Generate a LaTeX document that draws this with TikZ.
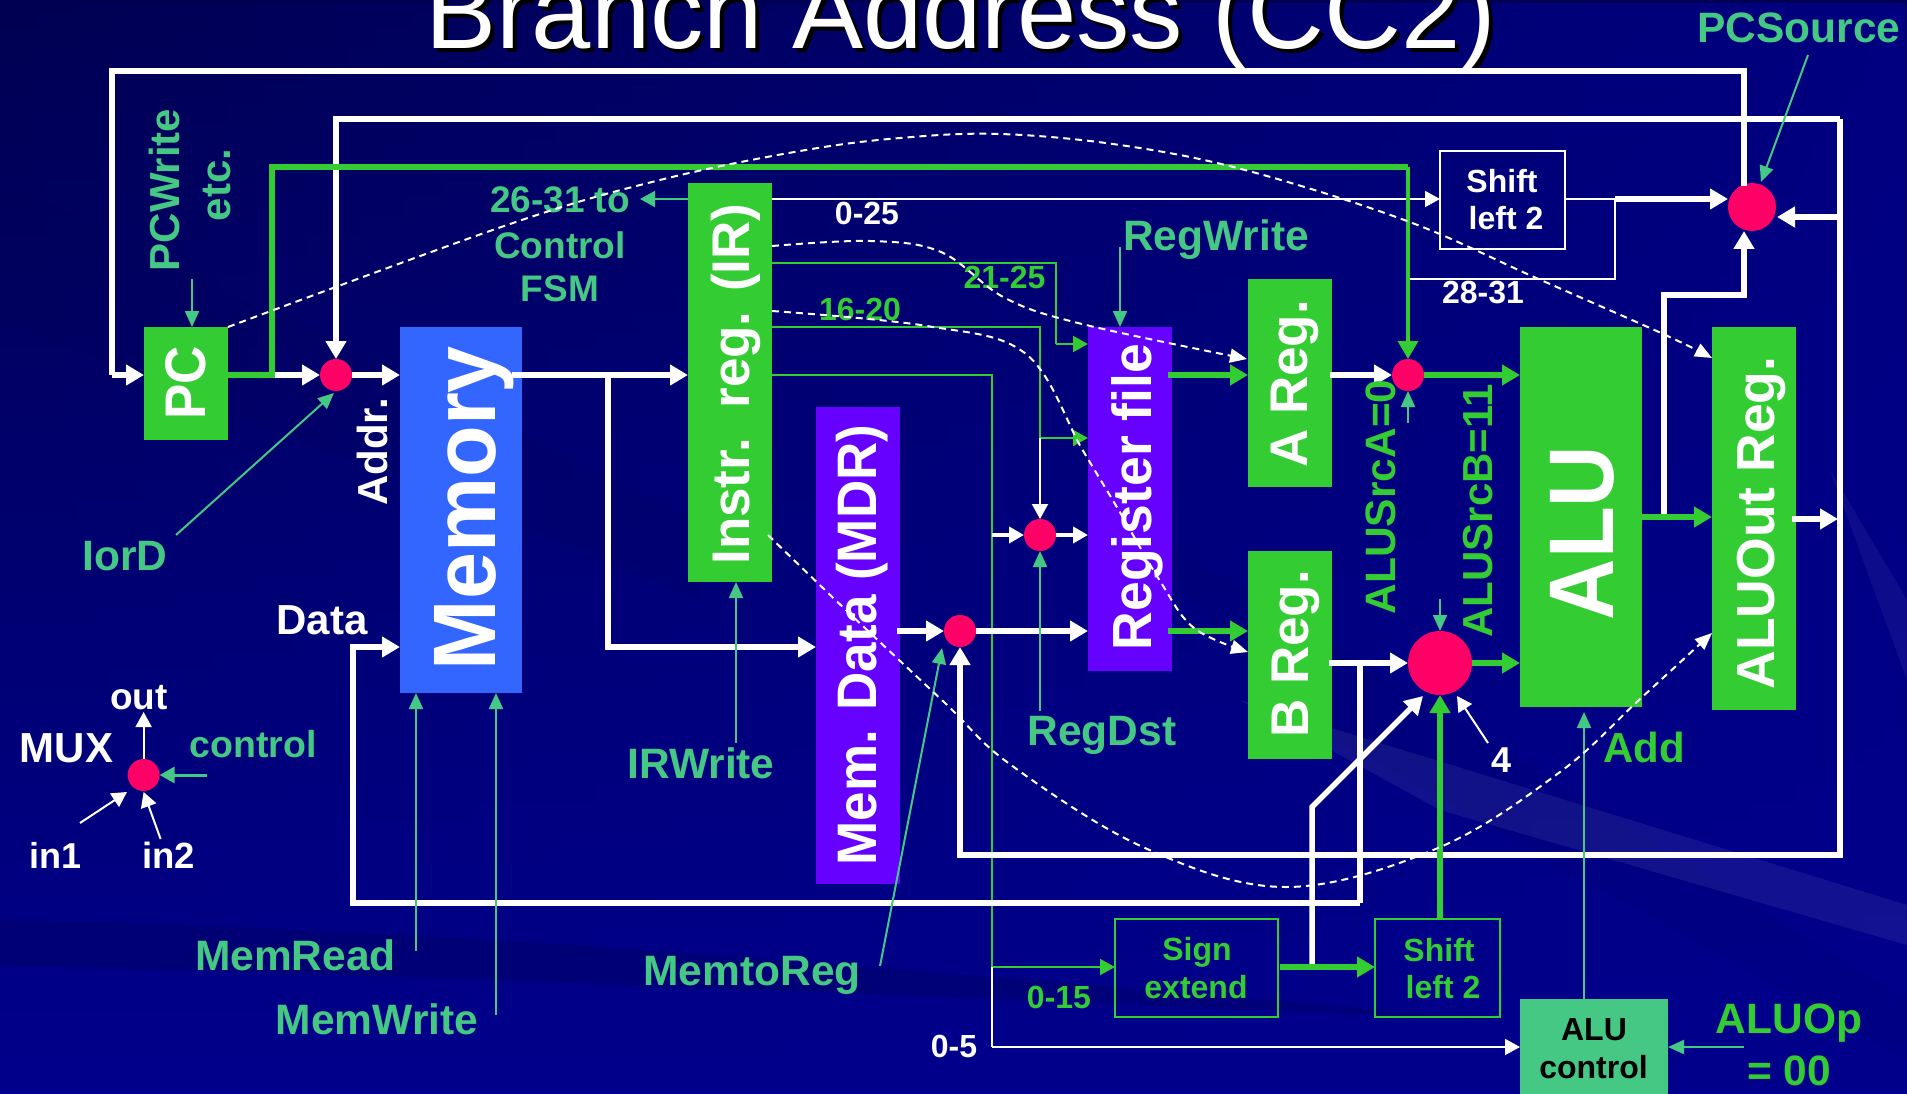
\documentclass[tikz,border=0pt]{standalone}
\usepackage{fontspec}
\setmainfont{Liberation Sans}
\usetikzlibrary{arrows.meta,calc,shapes.geometric,fadings}
\definecolor{wgreen}{HTML}{33CC33}
\definecolor{lgreen}{HTML}{44C884}
\definecolor{memblue}{HTML}{3366FF}
\definecolor{regpurple}{HTML}{6600FF}
\definecolor{muxred}{HTML}{FF0066}
\definecolor{bgdark}{HTML}{000052}
\definecolor{bgmid}{HTML}{00007C}
\definecolor{bglight}{HTML}{00008C}
\newcommand\fz[1]{\fontsize{#1}{#1}\selectfont}
\newcommand\wide[2]{\scalebox{1}[#1]{#2}}
\tikzset{
  bx/.style={anchor=north west,inner sep=0pt,outer sep=0pt},
  boxg/.style={bx,fill=wgreen},
  boxm/.style={bx,fill=memblue},
  boxp/.style={bx,fill=regpurple},
  boxctl/.style={bx,fill=lgreen},
  boxw/.style={bx,draw=white,line width=2pt},
  boxe/.style={bx,draw=wgreen,line width=2pt},
  mux/.style={circle,fill=muxred,inner sep=0pt,outer sep=0pt,minimum size=#1},
  bigh/.style={inner sep=0pt,text=white,font=\bfseries},
  bigv/.style={inner sep=0pt,text=white,font=\bfseries,rotate=90},
  lab/.style={inner sep=0pt,text=lgreen,font=\bfseries\fz{42.5}},
  labv/.style={lab,rotate=90},
  sgreen/.style={inner sep=0pt,text=wgreen,font=\bfseries\fz{32}},
  swhite/.style={inner sep=0pt,text=white,font=\bfseries\fz{32}},
  wirew/.style={draw=white,line width=5.5pt},
  wireg/.style={draw=wgreen,line width=5.5pt},
  thinw/.style={draw=white,line width=2pt},
  thing/.style={draw=wgreen,line width=2pt},
  ctl/.style={draw=lgreen,line width=2pt,-{Triangle[length=16pt,width=14pt,fill=lgreen]}},
  bighead/.style={-{Triangle[length=18pt,width=20pt]}},
  smallhead/.style={-{Triangle[length=15pt,width=16pt]}},
  dash line/.style={draw=white,line width=2pt,dash pattern=on 7pt off 5pt,-{Triangle[length=17pt,width=14pt]}},
}
\begin{document}
\begin{tikzpicture}[x=1pt,y=-1pt]
\useasboundingbox (0,0) rectangle (1907,1094);
\clip (0,0) rectangle (1907,1094);
% background
\shade[top color=bgdark,middle color=bgmid,bottom color=bglight] (0,0) rectangle (1907,1094);
\fill[bglight,path fading=west,opacity=.8] (0,0) rectangle (1907,1094);
\fill[bgdark,opacity=.3] (0,920) .. controls (500,930) and (900,970) .. (1500,1020) .. controls (800,990) and (400,975) .. (0,965) -- cycle;
\fill[bgdark,opacity=.15] (0,180) -- (700,520) -- (700,600) -- (0,320) -- cycle;
\fill[bgdark,opacity=.1] (1100,500) -- (1907,1000) -- (1907,1060) -- (1300,720) -- cycle;
\fill[white,opacity=.07] (1240,700) -- (1907,905) -- (1907,945) -- (1440,810) -- cycle;
\fill[white,opacity=.05] (1830,470) -- (1907,600) -- (1907,680) -- cycle;
% title
\node[inner sep=0pt,anchor=base,text=black,font=\fz{106.5}] (titleshadow) at (965,53) {Branch Address (CC2)};
\node[inner sep=0pt,anchor=base,text=white,font=\fz{106.5}] (title) at (961,49) {Branch Address (CC2)};
% boxes
\node[boxg,minimum width=84pt,minimum height=113pt] (pc) at (144,327) {};
\node[boxm,minimum width=122pt,minimum height=366pt] (mem) at (400,327) {};
\node[boxg,minimum width=84pt,minimum height=399pt] (ir) at (688,183) {};
\node[boxp,minimum width=84pt,minimum height=477pt] (mdr) at (816,407) {};
\node[boxp,minimum width=84pt,minimum height=344pt] (rf) at (1088,327) {};
\node[boxg,minimum width=84pt,minimum height=208pt] (areg) at (1248,279) {};
\node[boxg,minimum width=84pt,minimum height=208pt] (breg) at (1248,551) {};
\node[boxg,minimum width=122pt,minimum height=380pt] (alu) at (1520,327) {};
\node[boxg,minimum width=84pt,minimum height=383pt] (aluout) at (1712,327) {};
\node[boxw,minimum width=125pt,minimum height=98pt] (shtop) at (1440,151) {};
\node[boxe,minimum width=163pt,minimum height=98pt] (sign) at (1115,919) {};
\node[boxe,minimum width=125pt,minimum height=98pt] (shbot) at (1375,919) {};
\node[boxctl,minimum width=148pt,minimum height=100pt] (aluctl) at (1520,999) {};
% muxes
\node[mux=32pt] (mAddr) at (336,375) {};
\node[mux=32pt] (mA) at (1408,375) {};
\node[mux=48pt] (mPC) at (1752,207) {};
\node[mux=32pt] (mDst) at (1040,535) {};
\node[mux=32pt] (mMem) at (960,631) {};
\node[mux=64pt] (mB) at (1440,663) {};
\node[mux=32pt] (mLeg) at (143.6,775) {};
% helper points
\coordinate (aTop) at (1744,186);
\coordinate (aTL) at (112,71);
\coordinate (bR) at (1840,119);
\coordinate (bTL) at (336,119);
\coordinate (bBR) at (1840,855);
\coordinate (bBL) at (960,855);
\coordinate (pcIn) at (1777,217);
\coordinate (outL) at (1792,519);
\coordinate (outR) at (1838,519);
\coordinate (gJ) at (272,375);
\coordinate (gTL) at (272,167);
\coordinate (gTR) at (1408,167);
\coordinate (memOut) at (512,375);
\coordinate (brJ) at (608,375);
\coordinate (brB) at (608,647);
\coordinate (dIn) at (353,647);
\coordinate (dB) at (353,903);
\coordinate (dR) at (1360,903);
\coordinate (bOut) at (1329,663);
\coordinate (seOut) at (1280,967);
\coordinate (seJ) at (1312,967);
\coordinate (seUp) at (1312,807);
\coordinate (seTip) at (1423,696);
\coordinate (fourS) at (1488,743);
\coordinate (fourT) at (1457,696);
\coordinate (mdrOut) at (897,631);
\coordinate (dstIn) at (992,535);
\coordinate (y327) at (772,327);
\coordinate (x1040a) at (1040,327);
\coordinate (x1040b) at (1040,438);
\coordinate (y263) at (772,263);
\coordinate (x1056a) at (1056,263);
\coordinate (x1056b) at (1056,344);
\coordinate (y199) at (772,199);
\coordinate (irL) at (688,199);
\coordinate (fsmT) at (640,199);
\coordinate (stOut) at (1566,199);
\coordinate (stJ) at (1615,199);
\coordinate (stB) at (1615,279);
\coordinate (stBL) at (1408,279);
\coordinate (pcLeft) at (1728,199);
\coordinate (y375) at (772,375);
\coordinate (x992a) at (992,375);
\coordinate (x992b) at (992,967);
\coordinate (x992c) at (992,1047);
\coordinate (aOut) at (1168,375);
\coordinate (aBack) at (1330,375);
\coordinate (rfB) at (1168,631);
\coordinate (aluY) at (1642,517);
\coordinate (aoIn) at (1712,517);
\coordinate (wJ) at (1664,517);
\coordinate (wU) at (1664,295);
\coordinate (wR) at (1744,295);
\coordinate (wT) at (1744,231);
% thin wires
\draw[thinw,smallhead] (y199) -- (shtop.west |- y199);
\draw[thinw] (stOut) -- (stJ) -- (stB) -- (stBL);
\draw[thing] (y327) -- (x1040a) -- (x1040b);
\draw[thing,smallhead] (x1040b) -- (rf.west |- x1040b);
\draw[thinw,smallhead] (x1040b) -- (mDst.north);
\draw[thing] (y263) -- (x1056a) -- (x1056b);
\draw[thing,smallhead] (x1056b) -- (rf.west |- x1056b);
\draw[thing] (y375) -- (x992a) -- (x992b);
\draw[thing,smallhead] (x992b) -- (sign.west |- x992b);
\draw[thinw] (x992b) -- (x992c);
\draw[thinw,smallhead] (x992c) -- (aluctl.west |- x992c);
\draw[draw=lgreen,line width=2pt,smallhead] (irL) -- (fsmT);
% thick white wires
\draw[wirew] (aTop) |- (aTL) -- (aTL |- mAddr);
\draw[wirew,bighead] (aTL |- mAddr) -- (pc.west |- mAddr);
\draw[wirew,bighead] (bR) -- (bTL) -- (mAddr.north);
\draw[wirew,bighead] (bR) -- (bBR) -- (bBL) -- (mMem.south);
\draw[wirew,bighead] (bR |- pcIn) -- (pcIn);
\draw[wirew,bighead] (outL) -- (outR);
\draw[wirew,bighead] (pc.east |- mAddr) -- (mAddr.west);
\draw[wirew,bighead] (mAddr.east) -- (mem.west |- mAddr);
\draw[wirew,bighead] (memOut) -- (ir.west |- mAddr);
\draw[wirew,bighead] (brJ) -- (brB) -- (mdr.west |- brB);
\draw[wirew,bighead] (dR) -- (dB) -- (dIn) -- (mem.west |- dIn);
\draw[wirew] (dR) -- (dR |- bOut);
\draw[wirew,bighead] (bOut) -- (mB.west);
\draw[wirew,bighead] (seJ) -- (seUp) -- (seTip);
\draw[wirew,bighead] (mdrOut) -- (mMem.west);
\draw[wirew,bighead] (mMem.east) -- (rf.west |- mMem);
\draw[wirew,bighead] (aBack) -- (mA.west);
\draw[wirew,line width=4pt,smallhead] (dstIn) -- (mDst.west);
\draw[wirew,line width=4pt,smallhead] (mDst.east) -- (rf.west |- mDst);
\draw[wirew,bighead] (stJ) -- (pcLeft);
\draw[wirew,bighead] (wJ) -- (wU) -- (wR) -- (wT);
\draw[thinw,smallhead] (fourS) -- (fourT);
% thick green wires
\draw[wireg] (pc.east |- mAddr) -- (gJ) -- (gTL) -- (gTR);
\draw[draw=wgreen,line width=3.5pt,bighead] (gTR) -- (mA.north);
\draw[wireg,bighead] (mA.east) -- (alu.west |- mA);
\draw[wireg,bighead] (aOut) -- (areg.west |- aOut);
\draw[wireg,bighead] (rfB) -- (breg.west |- rfB);
\draw[wireg,bighead] (mB.east) -- (alu.west |- mB);
\draw[wireg,bighead] (seOut) -- (shbot.west |- seOut);
\draw[wireg,bighead] (shbot.north -| mB) -- (mB.south);
\draw[wireg,bighead] (aluY) -- (aoIn);
% legend wires
\coordinate (legOut) at (143.6,712);
\coordinate (legIn1) at (80,823);
\coordinate (legIn1T) at (127,792);
\coordinate (legIn2) at (160.6,839);
\coordinate (legIn2T) at (143.6,792);
\coordinate (legCtl) at (207,775);
\draw[thinw,smallhead] (mLeg.north) -- (legOut);
\draw[thinw,smallhead] (legIn1) -- (legIn1T);
\draw[thinw,smallhead] (legIn2) -- (legIn2T);
\draw[draw=lgreen,line width=3pt,smallhead] (legCtl) -- (mLeg.east);
% control arrows
\coordinate (cPC) at (192,279);
\coordinate (cIorD) at (176,535);
\coordinate (cIorDT) at (334,393);
\coordinate (cSrc) at (1808,55);
\coordinate (cSrcT) at (1761,182);
\coordinate (cRW) at (1120,247);
\coordinate (cSA) at (1408,423);
\coordinate (cDst) at (1040,711);
\coordinate (cSB) at (1440,599);
\coordinate (cIR) at (736,743);
\coordinate (cMR) at (416,951);
\coordinate (cMW) at (496,1015);
\coordinate (cM2R) at (880,966);
\coordinate (cM2RT) at (942,648);
\coordinate (cAC) at (1584,999);
\coordinate (cACT) at (1584,712);
\coordinate (cOp) at (1744,1047);
\draw[ctl] (cPC) -- (cPC |- pc.north);
\draw[ctl] (cIorD) -- (cIorDT);
\draw[ctl] (cSrc) -- (cSrcT);
\draw[ctl] (cRW) -- (cRW |- rf.north);
\draw[ctl] (cSA) -- (mA.south);
\draw[ctl] (cDst) -- (mDst.south);
\draw[ctl] (cSB) -- (mB.north);
\draw[ctl] (cIR) -- (cIR |- ir.south);
\draw[ctl] (cMR) -- (cMR |- mem.south);
\draw[ctl] (cMW) -- (cMW |- mem.south);
\draw[ctl] (cM2R) -- (cM2RT);
\draw[ctl] (cAC) -- (cACT);
\draw[ctl] (cOp) -- (aluctl.east |- cOp);
% box texts
\node[bigv,font=\bfseries\fz{53}] (tPC) at (186,383) {\wide{1.08}{PC}};
\node[bigv,font=\bfseries\fz{84.5}] (tMem) at (474,508) {\wide{1.05}{Memory}};
\node[bigv,font=\bfseries\fz{53}] (tIR) at (736,384) {Instr.\ \ reg. (IR)};
\node[bigv,font=\bfseries\fz{53}] (tMDR) at (862,645) {\wide{1.05}{Mem. Data (MDR)}};
\node[bigv,font=\bfseries\fz{53.5}] (tRF) at (1137,497) {\wide{1.03}{Register file}};
\node[bigv,font=\bfseries\fz{53}] (tA) at (1295,384) {A Reg.};
\node[bigv,font=\bfseries\fz{53}] (tB) at (1296,654) {B Reg.};
\node[bigv,font=\bfseries\fz{85}] (tALU) at (1582,533) {\wide{1.08}{ALU}};
\node[bigv,font=\bfseries\fz{53.5}] (tOut) at (1761,523) {ALUOut Reg.};
\node[swhite] (ts1) at (1502,181) {Shift};
\node[swhite] (ts2) at (1506,218) {left 2};
\node[sgreen] (tse1) at (1197,952) {Sign};
\node[sgreen] (tse2) at (1196,987) {extend};
\node[sgreen] (tsb1) at (1439,950) {Shift};
\node[sgreen] (tsb2) at (1443,987) {left 2};
\node[inner sep=0pt,text=black,font=\bfseries\fz{32}] (tc1) at (1594,1029.5) {ALU};
\node[inner sep=0pt,text=black,font=\bfseries\fz{32}] (tc2) at (1593.5,1067) {control};
% labels
\node[labv,font=\bfseries\fz{42}] (lPCW) at (164,190) {PCWrite};
\node[labv,font=\bfseries\fz{42}] (lEtc) at (217,185) {etc.};
\node[lab,font=\bfseries\fz{37}] (l26) at (560,200) {26-31 to};
\node[lab,font=\bfseries\fz{37}] (lCtl) at (560,245) {Control};
\node[lab,font=\bfseries\fz{37}] (lFSM) at (560,289) {FSM};
\node[lab] (lIorD) at (125,556) {IorD};
\node[bigv,font=\bfseries\fz{42}] (lAddr) at (372,452) {Addr.};
\node[bigh,font=\bfseries\fz{42}] (lData) at (322,620) {Data};
\node[bigh,font=\bfseries\fz{42}] (lMUX) at (66.5,748) {MUX};
\node[bigh,font=\bfseries\fz{37}] (lOut) at (139,698) {out};
\node[lab,font=\bfseries\fz{37.5}] (lCon) at (253,744) {control};
\node[bigh,font=\bfseries\fz{36}] (lIn1) at (55.5,855) {in1};
\node[bigh,font=\bfseries\fz{36.5}] (lIn2) at (168.5,855) {in2};
\node[lab] (lIRW) at (701,763) {IRWrite};
\node[lab] (lMR) at (295.5,955) {MemRead};
\node[lab] (lMW) at (377,1019) {MemWrite};
\node[lab] (lM2R) at (752,975) {MemtoReg};
\node[lab] (lDst) at (1102,735) {RegDst};
\node[lab] (lRW) at (1216,240) {RegWrite};
\node[lab] (lSrc) at (1799,28) {PCSource};
\node[lab,text=wgreen] (lOp) at (1789,1023) {ALUOp};
\node[lab,text=wgreen] (lOp2) at (1789,1071) {= 00};
\node[lab,text=wgreen,font=\bfseries\fz{42}] (lAdd) at (1644,747) {Add};
\node[labv,text=wgreen] (lSA) at (1381,497) {ALUSrcA=0};
\node[labv,text=wgreen,font=\bfseries\fz{42}] (lSB) at (1478,511) {ALUSrcB=11};
\node[swhite] (l025) at (867,213) {0-25};
\node[sgreen] (l2125) at (1004.5,277) {21-25};
\node[sgreen] (l1620) at (860,309) {16-20};
\node[swhite] (l2831) at (1483,293) {28-31};
\node[sgreen] (l015) at (1059,997) {0-15};
\node[swhite] (l05) at (954,1046) {0-5};
\node[bigh,font=\bfseries\fz{36}] (l4) at (1501,760) {4};
% dashed state paths
\draw[dash line] plot[smooth,tension=.6] coordinates {(pc.north east) (510,224) (660,180) (800,151) (900,138) (1000,134) (1120,145) (1245,170) (1407,221) (1534,277) (1661,333) (1712,358)};
\draw[dash line] plot[smooth,tension=.6] coordinates {(772,246) (870,241) (941,252) (1005,298) (1082,324) (1247,359)};
\draw[dash line] plot[smooth,tension=.6] coordinates {(772,311) (927,326) (1026,354) (1082,449) (1118,509) (1160,581) (1194,628) (1248,652)};
\draw[dash line] plot[smooth,tension=.6] coordinates {(768,535) (848,612) (945,703) (1011,765) (1145,848) (1286,887) (1438,848) (1560,772) (1640,699) (1712,633)};
\end{tikzpicture}
\end{document}
